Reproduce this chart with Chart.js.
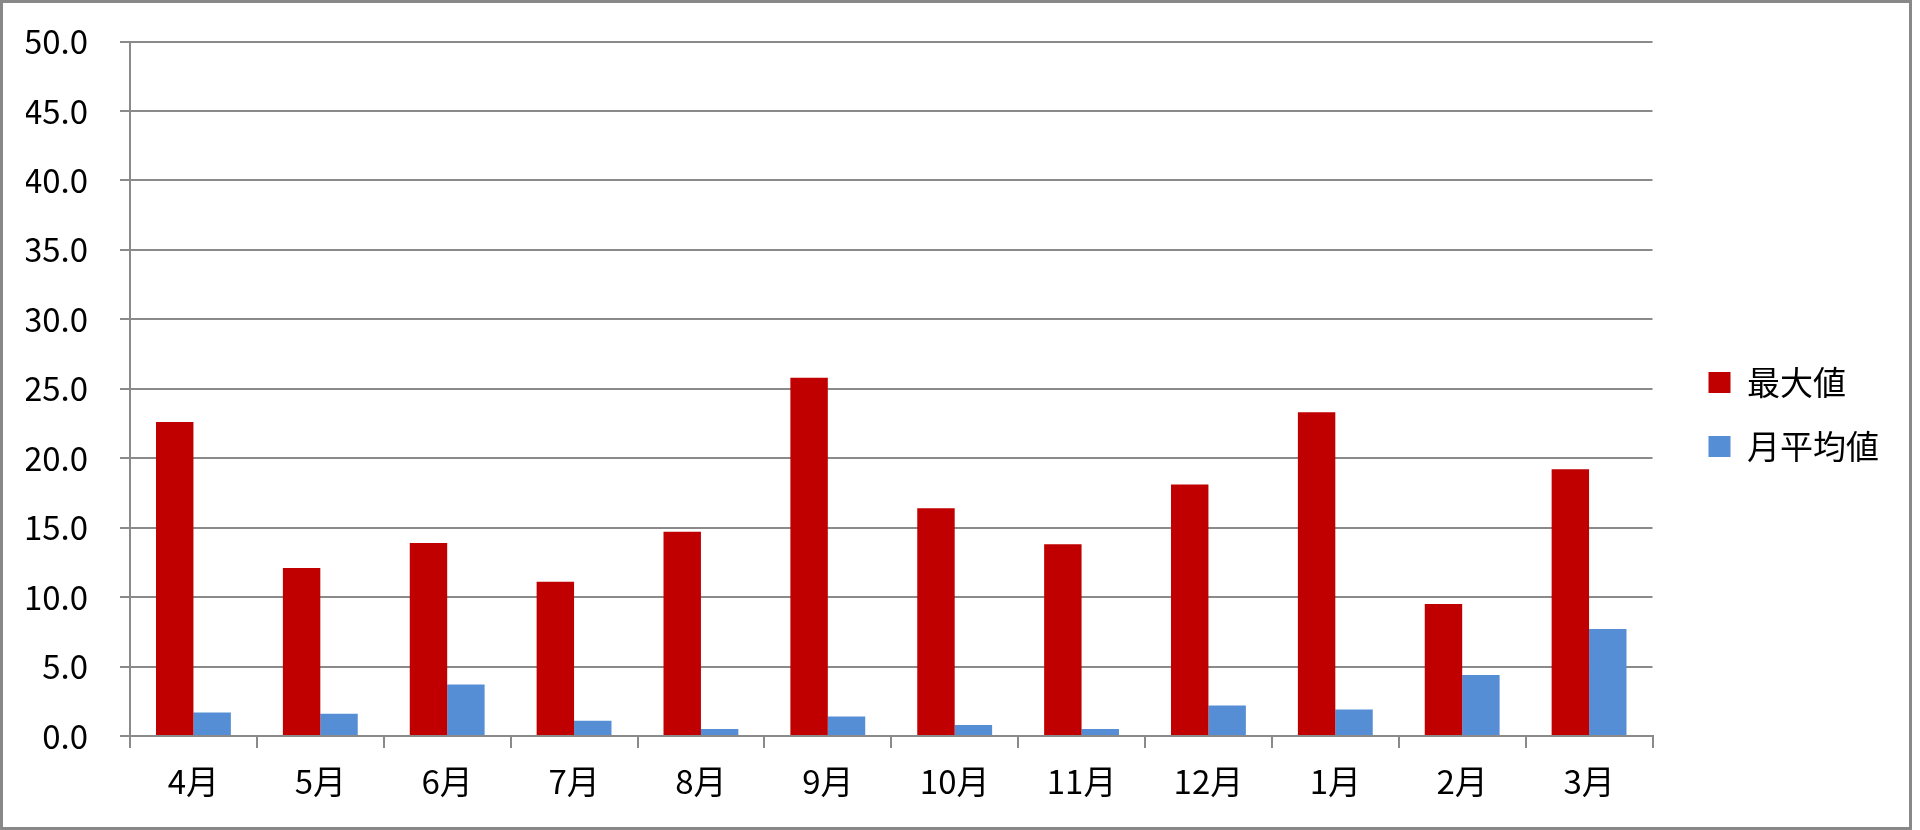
<!DOCTYPE html>
<html>
<head>
<meta charset="utf-8">
<script src="https://cdn.jsdelivr.net/npm/chart.js@4"></script>
<style>
  html, body { margin: 0; padding: 0; background: #fff; }
  #wrap { position: relative; width: 1920px; height: 830px; }
  #frame { position: absolute; left: 0; top: 0; width: 1912px; height: 830px; box-sizing: border-box; border: 3px solid #888888; pointer-events: none; }
  canvas { position: absolute; left: 0; top: 0; }
</style>
</head>
<body>
<div id="wrap">
  <canvas id="c" width="1920" height="830"></canvas>
  <div id="frame"></div>
</div>
<script>
const categories = ['4月', '5月', '6月', '7月', '8月', '9月', '10月', '11月', '12月', '1月', '2月', '3月'];
const seriesNames = ['最大値', '月平均値'];
const maxValues = [22.6, 12.1, 13.9, 11.1, 14.7, 25.8, 16.4, 13.8, 18.1, 23.3, 9.5, 19.2];
const avgValues = [1.7, 1.6, 3.7, 1.1, 0.5, 1.4, 0.8, 0.5, 2.2, 1.9, 4.4, 7.7];
const yTicks = [0, 5, 10, 15, 20, 25, 30, 35, 40, 45, 50];

const FONT = '"Noto Sans CJK JP", "Noto Sans", sans-serif';
const GRID = '#8a8a8a';

new Chart(document.getElementById('c'), {
  type: 'bar',
  data: {
    labels: categories,
    datasets: [
      { label: seriesNames[0], data: maxValues, backgroundColor: '#C00000', borderWidth: 0, yAxisID: 'y' },
      { label: seriesNames[1], data: avgValues, backgroundColor: '#558ED5', borderWidth: 0, yAxisID: 'y' }
    ]
  },
  options: {
    responsive: false,
    devicePixelRatio: 1,
    animation: false,
    categoryPercentage: 0.59,
    barPercentage: 1.0,
    layout: { padding: { left: 26, top: 27, right: 31, bottom: 28 } },
    plugins: {
      tooltip: { enabled: false },
      legend: {
        position: 'right',
        align: 'center',
        labels: {
          font: { family: FONT, size: 33 },
          color: '#000',
          boxWidth: 22,
          boxHeight: 21,
          padding: 31
        }
      }
    },
    scales: {
      x: {
        offset: true,
        afterFit: (axis) => { axis.height = 66; },
        grid: { display: true, drawOnChartArea: false, drawTicks: true, tickLength: 12, color: GRID, lineWidth: 2, offset: true },
        border: { display: true, color: GRID, width: 2 },
        ticks: { font: { family: FONT, size: 33 }, color: '#000', padding: 14, maxRotation: 0 }
      },
      y: {
        min: 0,
        max: 50,
        afterBuildTicks: (axis) => { axis.ticks = yTicks.map(v => ({ value: v })); },
        afterFit: (axis) => { axis.width = 104; },
        grid: { color: GRID, lineWidth: 2, tickLength: 10, drawTicks: true },
        border: { display: true, color: GRID, width: 2 },
        ticks: {
          font: { family: FONT, size: 33, lineHeight: 0.576 },
          color: '#000',
          padding: 32,
          callback: (v) => Number(v).toFixed(1)
        }
      },
      gap: {
        type: 'linear',
        position: 'right',
        display: true,
        afterFit: (axis) => { axis.width = 25; },
        grid: { display: false, drawTicks: false },
        border: { display: false },
        ticks: { display: false }
      }
    }
  }
});
</script>
</body>
</html>
